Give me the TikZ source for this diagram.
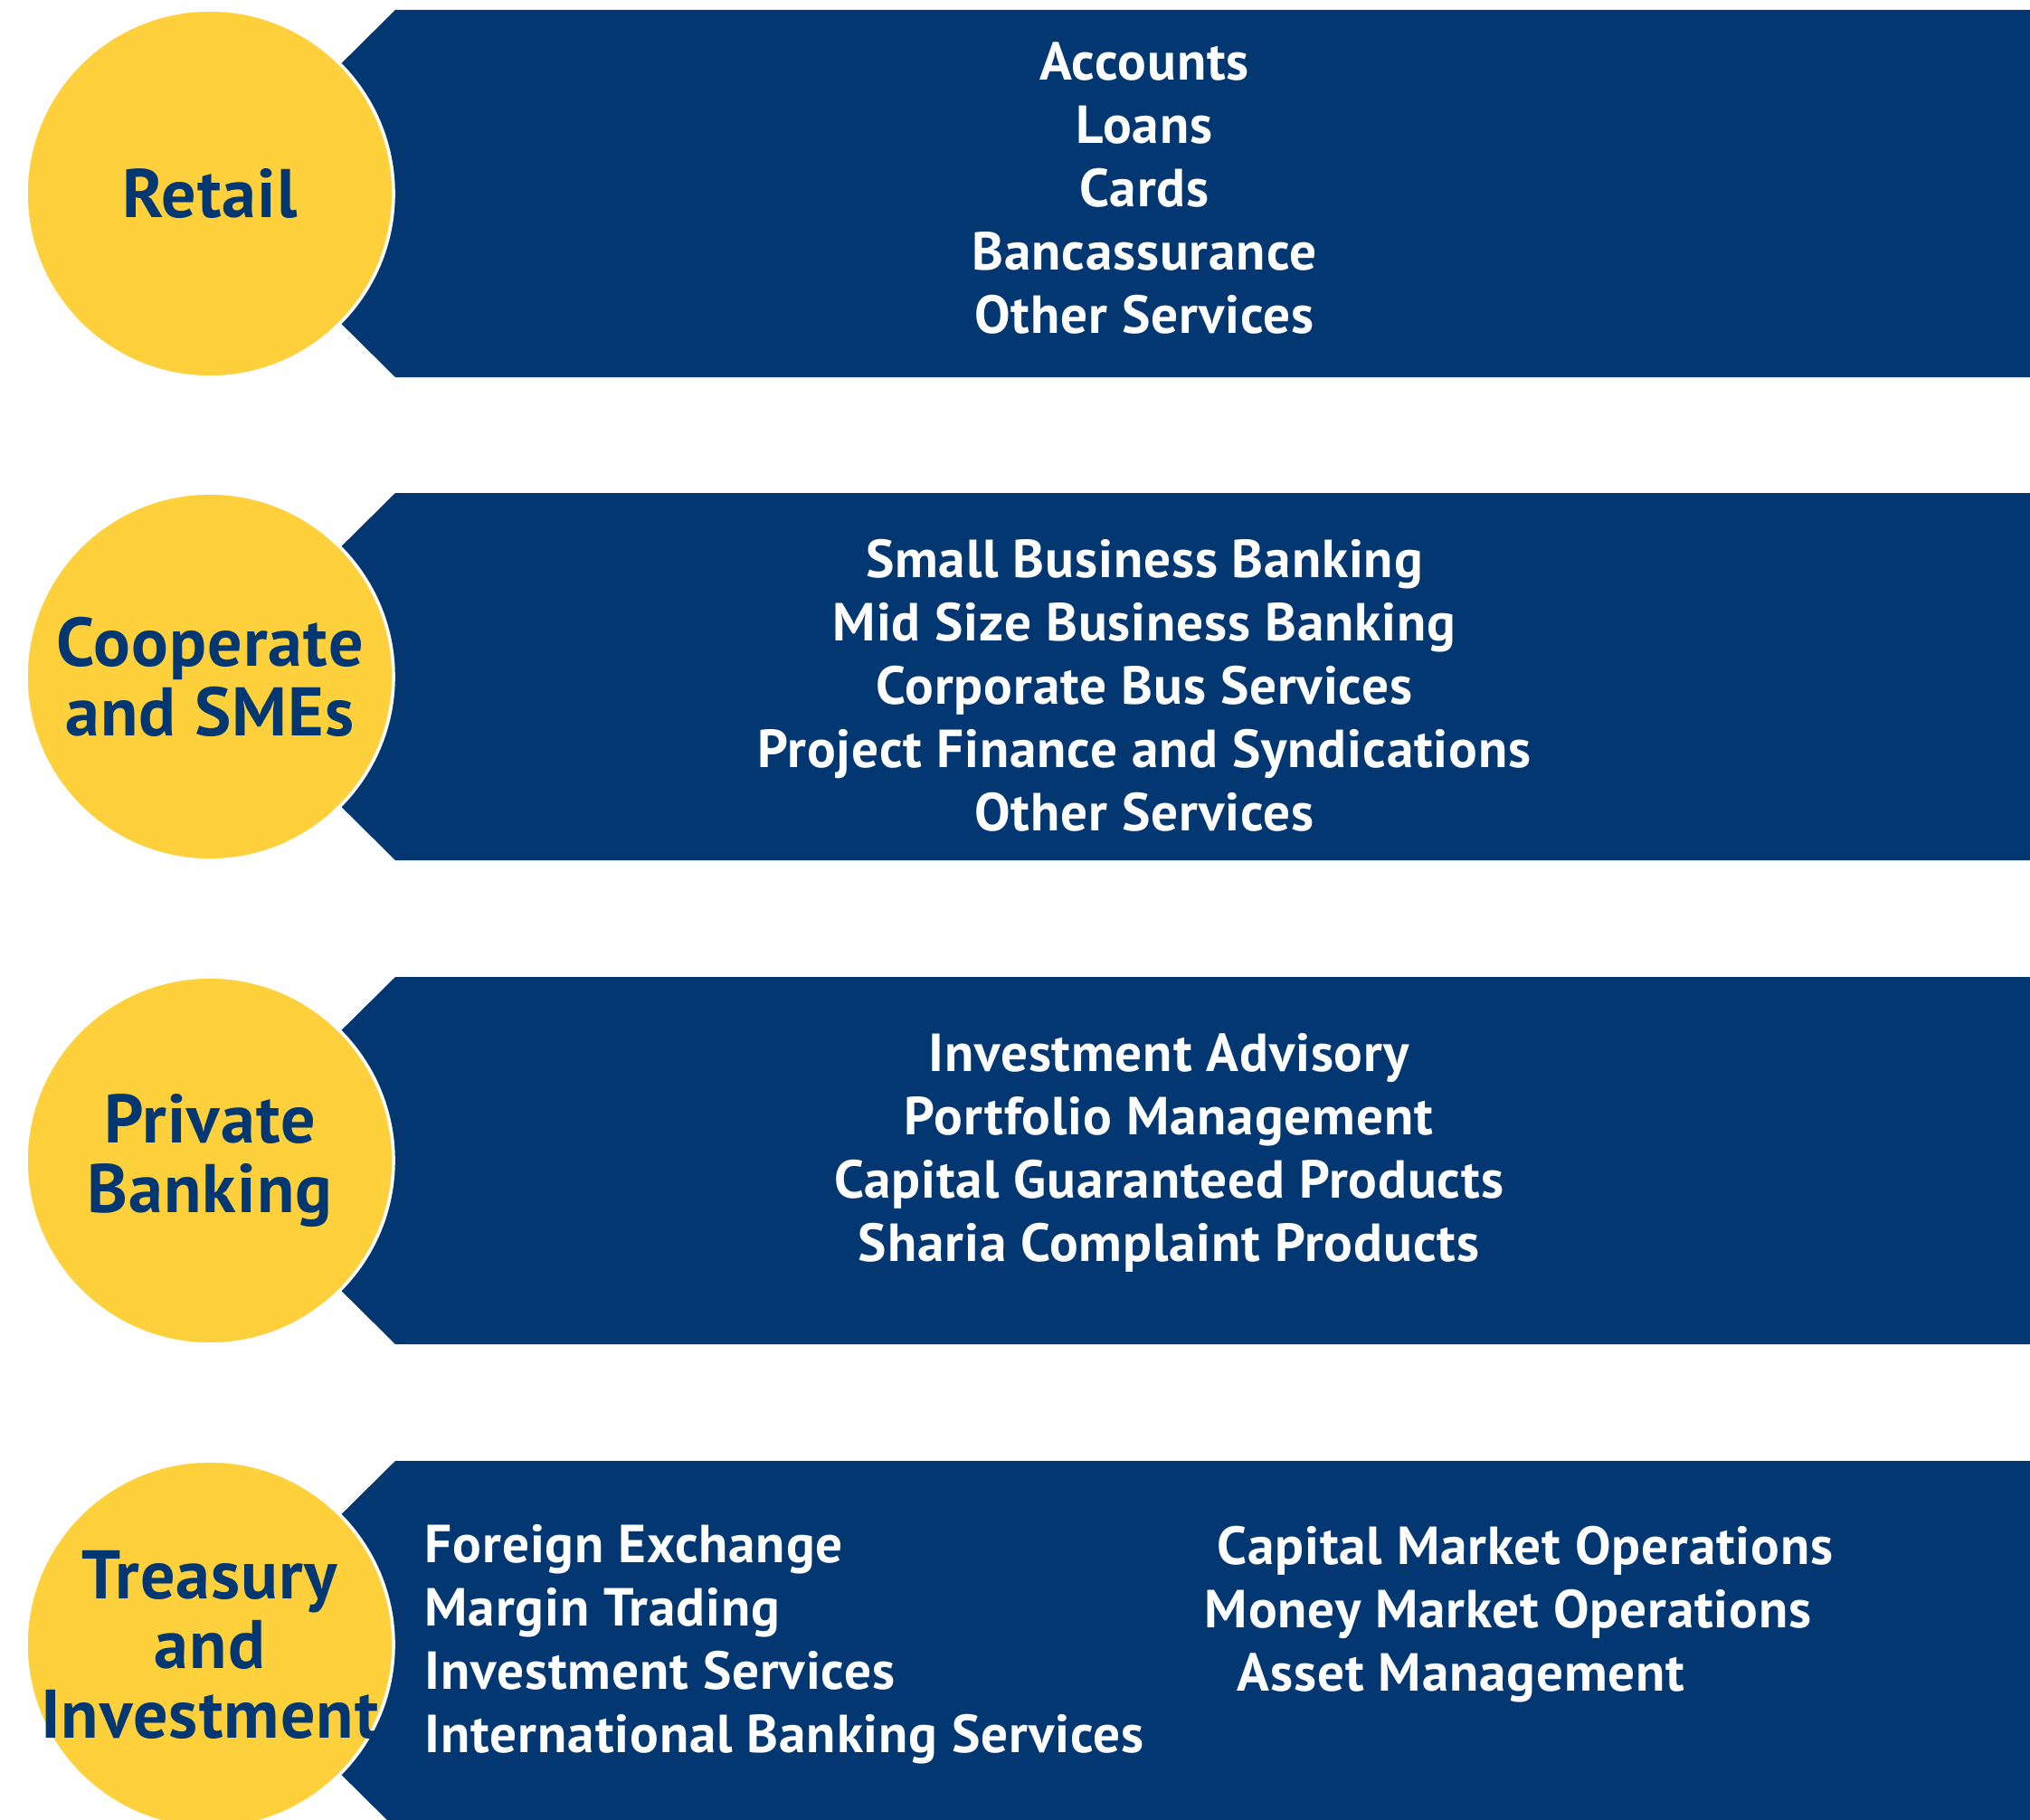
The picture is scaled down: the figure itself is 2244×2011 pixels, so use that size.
\documentclass[tikz,border=0pt]{standalone}
\usepackage{fontspec}
\setmainfont{PT Sans}[LetterSpace=1.5]
\usetikzlibrary{positioning}

\definecolor{navy}{RGB}{3,55,114}
\definecolor{gold}{RGB}{253,208,60}

\tikzset{
  band/.style={fill=navy},
  disc/.style={circle, fill=gold, draw=white, line width=0.9pt, minimum size=101.5pt, inner sep=0pt},
  disctext/.style={text=navy, align=center, inner sep=0pt, font=\bfseries\fontsize{19}{19.25}\selectfont},
  items/.style={text=white, align=center, inner sep=0pt, font=\bfseries\fontsize{14.8}{17.5}\selectfont},
  itemsl/.style={items, align=left}
}

\begin{document}
\begin{tikzpicture}[x=0.25pt, y=-0.25pt]
 \useasboundingbox (0,0) rectangle (2244,2011);
 \clip (0,0) rectangle (2244,2011);

 % bands
 \fill[band] (437,11) -- (2244,11) -- (2244,417) -- (437,417) -- (232,214) -- cycle;
 \fill[band] (437,545) -- (2244,545) -- (2244,951) -- (437,951) -- (232,748) -- cycle;
 \fill[band] (437,1080) -- (2244,1080) -- (2244,1486) -- (437,1486) -- (232,1283) -- cycle;
 \fill[band] (437,1615) -- (2244,1615) -- (2244,2021) -- (437,2021) -- (232,1818) -- cycle;

 % circles
 \node[disc] (retail) at (232,214) {};
 \node[disc] (sme) at (232,748) {};
 \node[disc] (private) at (232,1283) {};
 \node[disc] (treasury) at (232,1818) {};

 \node[disctext] (retailtxt) at (retail) {Retail};
 \node[disctext] (smetxt) at (sme) {Cooperate\\and SMEs};
 \node[disctext] (privatetxt) at (private) {Private\\Banking};
 \node[disctext] (treasurytxt) at (treasury) {Treasury\\and\\Investment};

 % services
 \node[items] (retailitems) at (1265,208) {Accounts\\Loans\\Cards\\Bancassurance\\Other Services};
 \node[items] (smeitems) at (1265,758) {Small Business Banking\\Mid Size Business Banking\\Corporate Bus Services\\Project Finance and Syndications\\Other Services};
 \node[items] (privateitems) at (1292,1274) {Investment Advisory\\Portfolio Management\\Capital Guaranteed Products\\Sharia Complaint Products};
 \node[itemsl, anchor=west] (treasuryleft) at (469,1818) {Foreign Exchange\\Margin Trading\\Investment Services\\International Banking Services};
 \node[items, anchor=base west] (capital) at (1345,1729) {Capital Market Operations};
 \node[items, anchor=base west] (money) at (1331,1799) {Money Market Operations};
 \node[items, anchor=base west] (asset) at (1367,1869) {Asset Management};
\end{tikzpicture}
\end{document}
